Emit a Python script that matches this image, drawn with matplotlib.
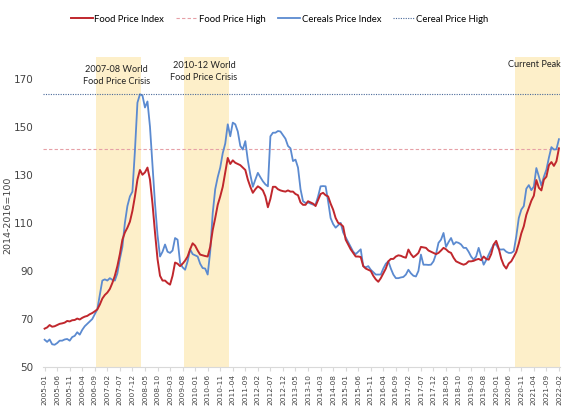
import matplotlib.pyplot as plt
import numpy as np
import pandas as pd

# monthly values, 2005-01 .. 2022-02 (2014-2016=100)
food_index = [
    66.0, 66.5, 67.5, 66.8, 67.0, 67.5, 68.0, 68.2, 68.5, 69.2, 69.0, 69.5,   # 2005
    69.6, 70.2, 69.8, 70.5, 71.0, 71.3, 72.0, 72.5, 73.2, 74.0, 76.0, 78.5,   # 2006
    80.0, 81.0, 82.5, 85.0, 88.0, 92.0, 97.0, 103.0, 106.0, 108.0, 110.5, 115.0,  # 2007
    121.0, 128.0, 132.0, 130.0, 131.0, 133.0, 128.0, 118.0, 106.0, 95.0, 88.0, 86.0,  # 2008
    86.0, 85.0, 84.3, 88.0, 93.5, 93.0, 92.0, 93.0, 94.3, 96.0, 99.0, 101.5,  # 2009
    100.5, 98.5, 96.8, 96.5, 96.2, 96.0, 100.0, 107.0, 112.0, 117.5, 121.0, 125.0,  # 2010
    131.0, 137.0, 134.5, 136.0, 135.0, 134.5, 134.0, 133.0, 132.0, 128.0, 125.0, 122.5,  # 2011
    124.0, 125.2, 124.5, 123.5, 121.0, 116.5, 120.0, 125.0, 125.0, 124.0, 123.5, 123.2,  # 2012
    123.0, 123.5, 123.0, 123.0, 122.0, 121.5, 118.5, 117.5, 117.5, 119.0, 118.5, 118.0,  # 2013
    117.0, 119.5, 122.0, 122.5, 121.5, 121.0, 118.0, 115.5, 112.0, 110.0, 109.5, 108.5,  # 2014
    103.0, 101.0, 99.0, 97.5, 96.0, 96.0, 95.8, 92.0, 91.0, 90.5, 90.0, 88.0,  # 2015
    86.5, 85.5, 87.0, 89.0, 91.0, 94.0, 95.0, 95.0, 96.0, 96.5, 96.3, 95.8,  # 2016
    95.5, 98.9, 97.0, 95.7, 96.5, 97.5, 100.0, 99.8, 99.6, 98.5, 98.0, 97.5,  # 2017
    97.0, 97.5, 98.5, 99.6, 99.0, 98.0, 97.5, 95.5, 94.0, 93.5, 93.0, 92.6,  # 2018
    93.0, 94.0, 94.0, 94.2, 94.7, 95.0, 94.5, 96.0, 95.0, 94.7, 97.0, 101.0,  # 2019
    102.5, 99.4, 95.1, 92.4, 91.0, 93.1, 94.0, 95.9, 97.9, 101.4, 105.6, 108.6,  # 2020
    113.3, 116.2, 119.2, 121.3, 127.8, 124.6, 123.5, 128.0, 129.2, 134.0, 135.3, 133.7,  # 2021
    135.6, 141.0,  # 2022
]
cereals_index = [
    61.4, 60.5, 61.5, 59.5, 59.3, 60.0, 61.0, 61.0, 61.5, 61.7, 61.0, 62.5,   # 2005
    63.0, 64.5, 63.5, 65.5, 67.0, 68.0, 69.0, 70.0, 72.0, 74.0, 80.0, 86.0,   # 2006
    86.5, 86.0, 87.0, 86.3, 86.0, 89.0, 95.0, 100.0, 110.0, 117.0, 121.0, 123.0,  # 2007
    140.0, 160.0, 163.5, 163.0, 158.0, 160.5, 150.0, 134.0, 118.0, 105.0, 96.0, 98.0,  # 2008
    101.0, 98.0, 97.5, 98.5, 103.7, 103.0, 93.4, 91.5, 90.5, 94.0, 99.0, 97.0,  # 2009
    96.5, 96.0, 93.0, 91.2, 91.0, 88.5, 98.0, 114.0, 124.0, 129.0, 133.0, 139.0,  # 2010
    143.0, 151.0, 146.0, 151.7, 151.0, 148.0, 142.0, 140.5, 144.0, 136.0, 130.0, 125.0,  # 2011
    128.0, 130.8, 129.0, 127.3, 126.0, 125.2, 146.0, 147.5, 147.5, 148.2, 148.0, 146.5,  # 2012
    145.0, 142.0, 141.0, 135.7, 136.3, 133.0, 124.0, 119.0, 118.3, 118.5, 118.0, 117.6,  # 2013
    117.6, 121.0, 125.2, 125.3, 125.2, 119.0, 112.0, 109.5, 108.0, 109.0, 110.0, 106.0,  # 2014
    104.0, 102.0, 100.0, 98.0, 97.0, 98.0, 99.0, 92.0, 91.5, 92.0, 90.5, 89.5,  # 2015
    88.5, 88.5, 88.5, 91.0, 93.0, 94.0, 91.0, 88.5, 87.0, 87.0, 87.3, 87.5,  # 2016
    88.5, 90.5, 89.0, 88.0, 87.7, 90.0, 96.8, 92.6, 92.6, 92.5, 92.6, 94.0,  # 2017
    97.0, 101.7, 103.0, 105.8, 100.0, 102.0, 103.7, 101.0, 102.0, 101.7, 101.0, 99.6,  # 2018
    99.6, 98.0, 96.0, 94.7, 96.0, 99.6, 96.0, 92.6, 94.5, 96.8, 99.0, 101.0,  # 2019
    101.0, 99.0, 98.9, 99.0, 98.0, 97.5, 97.5, 98.2, 104.4, 112.0, 115.5, 117.0,  # 2020
    124.2, 125.7, 123.6, 125.1, 132.8, 129.3, 125.5, 129.2, 132.1, 137.1, 141.5, 140.5,  # 2021
    140.6, 144.8,  # 2022
]
food_high = 140.8
cereal_high = 163.5

months = pd.date_range("2005-01", "2022-02", freq="MS").strftime("%Y-%m").tolist()

# crisis periods (first and last month shaded)
crises = [("2006-10", "2008-03"), ("2009-09", "2011-02"), ("2020-09", "2022-02")]
crisis_labels = ["2007-08 World\nFood Price Crisis", "2010-12 World\nFood Price Crisis", "Current Peak"]

red = "#C0272D"
blue = "#5B8AD0"
shade = "#FDEFC9"

fig = plt.figure(figsize=(5.63, 4.07), dpi=100)
ax = fig.add_axes([0.077, 0.098, 0.918, 0.762])

x = np.arange(len(months))
for (a, b), lab in zip(crises, crisis_labels):
    i0, i1 = months.index(a), months.index(b)
    ax.axvspan(i0 - 0.5, i1 + 0.5, color=shade, lw=0, zorder=0)

txt = dict(fontsize=6.6, family="Lato", color="#222222", linespacing=1.45)
ax.text(28.8, 166.8, crisis_labels[0], ha="center", va="bottom", **txt)
ax.text(63.5, 168.5, crisis_labels[1], ha="center", va="bottom", **txt)
ax.text(205.6, 174.0, crisis_labels[2], ha="right", va="bottom", **txt)

ax.plot(x, food_index, color=red, lw=1.4, label="Food Price Index", zorder=3)
ax.axhline(food_high, color="#E6A0A6", lw=0.8, ls=(0, (3, 2)), label="Food Price High", zorder=2)
ax.plot(x, cereals_index, color=blue, lw=1.3, label="Cereals Price Index", zorder=2)
ax.axhline(cereal_high, color="#4A6A9A", lw=0.8, ls=(0, (1, 1.2)), label="Cereal Price High", zorder=2)

ax.set_xlim(-0.5, len(months) - 0.5)
ax.set_ylim(50, 179)
ax.set_yticks(range(50, 171, 20))
ax.set_xticks(x[::5])
ax.set_xticklabels(months[::5], rotation=90, fontsize=5.3, color="#444444")
ax.tick_params(axis="y", length=0, labelsize=7.5, labelcolor="#444444", pad=7)
ax.tick_params(axis="x", length=3, color="#D9D9D9", pad=2)
for s in ["top", "right", "left"]:
    ax.spines[s].set_visible(False)
ax.spines["bottom"].set_color("#D9D9D9")
fig.text(8 / 563, 0.47, "2014-2016=100", rotation=90, ha="center", va="center",
         fontsize=6.8, color="#444444")

fig.legend(loc="upper center", bbox_to_anchor=(0.497, 0.985), ncol=4, frameon=False,
           handlelength=2.3, handletextpad=0.15, columnspacing=1.3,
           prop={"family": "Lato", "size": 6.8})

fig.savefig("out.png", dpi=100)
